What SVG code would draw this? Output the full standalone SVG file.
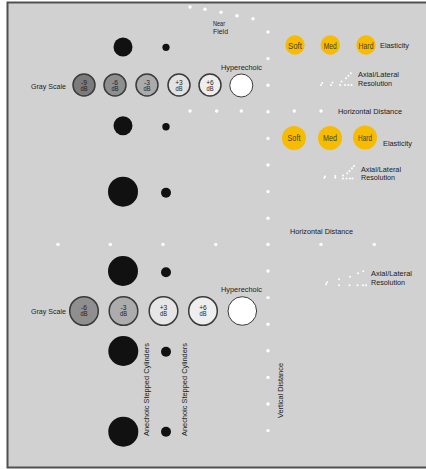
<svg xmlns="http://www.w3.org/2000/svg" width="426" height="469" viewBox="0 0 426 469">
<style>
text{font-family:"Liberation Sans",Arial,sans-serif;fill:#1c1c1c;font-size:8px}
.two{font-size:7.4px}
.in{font-size:6.6px;text-anchor:middle;fill:#1c1c1c}
.el{font-size:8.2px;text-anchor:middle;fill:#4a4230}
.wd{fill:#ffffff}
.sd{fill:#ffffff}
.blk{fill:#111111}
.gs{stroke:#3a3a3a;stroke-width:1.5}
.yel{fill:#f7bb00}
</style>
<rect x="7.5" y="2.5" width="430" height="465" fill="#d0d1d0" stroke="#505050" stroke-width="2"/>

<g id="grid-dots">
<circle class="wd" cx="190" cy="7" r="1.7"/><circle class="wd" cx="205" cy="9.3" r="1.7"/><circle class="wd" cx="221" cy="12.3" r="1.7"/><circle class="wd" cx="237" cy="15.7" r="1.7"/><circle class="wd" cx="253" cy="18.7" r="1.7"/>
<circle class="wd" cx="268" cy="32" r="1.7"/><circle class="wd" cx="268" cy="58.6" r="1.7"/><circle class="wd" cx="268" cy="85.2" r="1.7"/><circle class="wd" cx="268" cy="111.8" r="1.7"/><circle class="wd" cx="268" cy="138.4" r="1.7"/><circle class="wd" cx="268" cy="165" r="1.7"/><circle class="wd" cx="268" cy="191.6" r="1.7"/><circle class="wd" cx="268" cy="218.2" r="1.7"/><circle class="wd" cx="268" cy="244.4" r="1.7"/><circle class="wd" cx="268" cy="271" r="1.7"/><circle class="wd" cx="268" cy="297.6" r="1.7"/><circle class="wd" cx="268" cy="324.2" r="1.7"/><circle class="wd" cx="268" cy="350.8" r="1.7"/><circle class="wd" cx="268" cy="377.4" r="1.7"/><circle class="wd" cx="268" cy="404" r="1.7"/><circle class="wd" cx="268" cy="430.6" r="1.7"/>
<circle class="wd" cx="190" cy="111" r="1.7"/><circle class="wd" cx="216.7" cy="111" r="1.7"/><circle class="wd" cx="241.3" cy="111" r="1.7"/><circle class="wd" cx="294.3" cy="111" r="1.7"/><circle class="wd" cx="321" cy="111" r="1.7"/>
<circle class="wd" cx="58" cy="244.4" r="1.7"/><circle class="wd" cx="110.3" cy="244.4" r="1.7"/><circle class="wd" cx="163" cy="244.4" r="1.7"/><circle class="wd" cx="215.7" cy="244.4" r="1.7"/><circle class="wd" cx="321" cy="244.4" r="1.7"/><circle class="wd" cx="374.3" cy="244.4" r="1.7"/>
</g>

<g id="labels">
<text class="two" x="213" y="25.6" textLength="12" lengthAdjust="spacingAndGlyphs">Near</text>
<text class="two" x="213" y="33.8" textLength="15" lengthAdjust="spacingAndGlyphs">Field</text>
<text x="338" y="114" textLength="64" lengthAdjust="spacingAndGlyphs">Horizontal Distance</text>
<text x="290" y="234.3" textLength="63" lengthAdjust="spacingAndGlyphs">Horizontal Distance</text>
<text transform="translate(283,418) rotate(-90)" textLength="55" lengthAdjust="spacingAndGlyphs">Vertical Distance</text>
</g>

<g id="elasticity-1">
<circle class="yel" cx="295" cy="45" r="9.7"/><circle class="yel" cx="330.3" cy="45" r="9.7"/><circle class="yel" cx="366" cy="45" r="9.7"/>
<text class="el" x="295" y="48.6" textLength="14" lengthAdjust="spacingAndGlyphs">Soft</text>
<text class="el" x="330.3" y="48.6" textLength="13" lengthAdjust="spacingAndGlyphs">Med</text>
<text class="el" x="366" y="48.6" textLength="15" lengthAdjust="spacingAndGlyphs">Hard</text>
<text x="380" y="48" textLength="29" lengthAdjust="spacingAndGlyphs">Elasticity</text>
</g>

<g id="elasticity-2">
<circle class="yel" cx="294" cy="138" r="12"/><circle class="yel" cx="330" cy="138" r="12"/><circle class="yel" cx="365" cy="137.5" r="12"/>
<text class="el" x="294" y="141.4" textLength="13" lengthAdjust="spacingAndGlyphs">Soft</text>
<text class="el" x="330" y="141.4" textLength="14" lengthAdjust="spacingAndGlyphs">Med</text>
<text class="el" x="365" y="140.7" textLength="14" lengthAdjust="spacingAndGlyphs">Hard</text>
<text x="383" y="146.3" textLength="29" lengthAdjust="spacingAndGlyphs">Elasticity</text>
</g>

<g id="resolution-1">
<circle class="sd" cx="321" cy="85" r="1"/><circle class="sd" cx="322.3" cy="83" r="1"/>
<circle class="sd" cx="331" cy="85" r="1"/><circle class="sd" cx="332.5" cy="82.5" r="1"/>
<circle class="sd" cx="340" cy="85" r="1"/><circle class="sd" cx="341.5" cy="81.5" r="1"/>
<circle class="sd" cx="345" cy="85" r="1"/><circle class="sd" cx="346" cy="78.3" r="1"/>
<circle class="sd" cx="348.3" cy="85" r="1"/><circle class="sd" cx="348.3" cy="75.7" r="1"/>
<circle class="sd" cx="351.5" cy="85" r="1"/><circle class="sd" cx="350.8" cy="73.2" r="1"/>
<text class="two" x="358" y="76.8" textLength="41" lengthAdjust="spacingAndGlyphs">Axial/Lateral</text>
<text class="two" x="358" y="85.5" textLength="34" lengthAdjust="spacingAndGlyphs">Resolution</text>
</g>

<g id="resolution-2">
<circle class="sd" cx="324.3" cy="177.7" r="1"/><circle class="sd" cx="325" cy="176.6" r="1"/>
<circle class="sd" cx="335.3" cy="177.7" r="1"/><circle class="sd" cx="335.3" cy="176" r="1"/>
<circle class="sd" cx="343" cy="178.5" r="1"/><circle class="sd" cx="343" cy="175.5" r="1"/>
<circle class="sd" cx="346.5" cy="178.5" r="1"/><circle class="sd" cx="350" cy="178.5" r="1"/><circle class="sd" cx="352.5" cy="178.5" r="1"/>
<circle class="sd" cx="347.3" cy="173.3" r="1"/><circle class="sd" cx="349.5" cy="171" r="1"/><circle class="sd" cx="352" cy="168.3" r="1"/><circle class="sd" cx="354" cy="166" r="1"/>
<text class="two" x="361" y="172" textLength="40" lengthAdjust="spacingAndGlyphs">Axial/Lateral</text>
<text class="two" x="361" y="180.4" textLength="34" lengthAdjust="spacingAndGlyphs">Resolution</text>
</g>

<g id="resolution-3">
<circle class="sd" cx="326" cy="284.3" r="1"/><circle class="sd" cx="327.2" cy="282.3" r="1"/>
<circle class="sd" cx="339" cy="285.3" r="1"/><circle class="sd" cx="339" cy="279.3" r="1"/>
<circle class="sd" cx="349.5" cy="285.3" r="1"/><circle class="sd" cx="350" cy="276.7" r="1"/>
<circle class="sd" cx="357.5" cy="285.3" r="1"/><circle class="sd" cx="358" cy="273.3" r="1"/>
<circle class="sd" cx="363" cy="285.3" r="1"/><circle class="sd" cx="363.3" cy="271.3" r="1"/>
<circle class="sd" cx="366" cy="285.3" r="1"/>
<text class="two" x="371" y="276.4" textLength="41" lengthAdjust="spacingAndGlyphs">Axial/Lateral</text>
<text class="two" x="371" y="284.8" textLength="34" lengthAdjust="spacingAndGlyphs">Resolution</text>
</g>

<g id="grayscale-1">
<text x="31" y="89" textLength="35" lengthAdjust="spacingAndGlyphs">Gray Scale</text>
<circle class="gs" cx="84" cy="85" r="11" fill="#7b7b7b"/>
<circle class="gs" cx="115" cy="85" r="11" fill="#8e8e8e"/>
<circle class="gs" cx="147" cy="85" r="11" fill="#ababab"/>
<circle class="gs" cx="179" cy="85" r="11" fill="#e3e3e3"/>
<circle class="gs" cx="210" cy="85" r="11" fill="#eeeeee"/>
<circle cx="241.3" cy="85.5" r="11.5" fill="#ffffff" stroke="#3a3a3a" stroke-width="1"/>
<text class="in" x="84" y="84.8">-9</text><text class="in" x="84" y="90.6" textLength="7" lengthAdjust="spacingAndGlyphs">dB</text>
<text class="in" x="115" y="84.8">-6</text><text class="in" x="115" y="90.6" textLength="7" lengthAdjust="spacingAndGlyphs">dB</text>
<text class="in" x="147" y="84.8">-3</text><text class="in" x="147" y="90.6" textLength="7" lengthAdjust="spacingAndGlyphs">dB</text>
<text class="in" x="179" y="84.8">+3</text><text class="in" x="179" y="90.6" textLength="7" lengthAdjust="spacingAndGlyphs">dB</text>
<text class="in" x="210" y="84.8">+6</text><text class="in" x="210" y="90.6" textLength="7" lengthAdjust="spacingAndGlyphs">dB</text>
<text x="221" y="70.3" textLength="41" lengthAdjust="spacingAndGlyphs">Hyperechoic</text>
</g>

<g id="grayscale-2">
<text x="31" y="314" textLength="35" lengthAdjust="spacingAndGlyphs">Gray Scale</text>
<circle class="gs" cx="84" cy="311" r="14.3" fill="#8f8f8f"/>
<circle class="gs" cx="123.5" cy="311" r="14.3" fill="#acacac"/>
<circle class="gs" cx="163.5" cy="311" r="14.3" fill="#e6e6e6"/>
<circle class="gs" cx="203" cy="311" r="14.3" fill="#eeeeee"/>
<circle cx="242.3" cy="311" r="14.3" fill="#ffffff" stroke="#3a3a3a" stroke-width="1"/>
<text class="in" x="84" y="310.3">-6</text><text class="in" x="84" y="316" textLength="7" lengthAdjust="spacingAndGlyphs">dB</text>
<text class="in" x="123.5" y="310.3">-3</text><text class="in" x="123.5" y="316" textLength="7" lengthAdjust="spacingAndGlyphs">dB</text>
<text class="in" x="163.5" y="310.3">+3</text><text class="in" x="163.5" y="316" textLength="7" lengthAdjust="spacingAndGlyphs">dB</text>
<text class="in" x="203" y="310.3">+6</text><text class="in" x="203" y="316" textLength="7" lengthAdjust="spacingAndGlyphs">dB</text>
<text x="221" y="292.3" textLength="41" lengthAdjust="spacingAndGlyphs">Hyperechoic</text>
</g>

<g id="anechoic">
<circle class="blk" cx="123" cy="47" r="9.5"/><circle class="blk" cx="166" cy="47.3" r="3.6"/>
<circle class="blk" cx="123" cy="125.7" r="9.5"/><circle class="blk" cx="166" cy="126.7" r="3.7"/>
<circle class="blk" cx="123" cy="191.7" r="15"/><circle class="blk" cx="166" cy="192.7" r="5"/>
<circle class="blk" cx="123" cy="271" r="15"/><circle class="blk" cx="166" cy="272.3" r="5"/>
<circle class="blk" cx="123.3" cy="351" r="15"/><circle class="blk" cx="166" cy="351.7" r="5"/>
<circle class="blk" cx="123.3" cy="431.7" r="15"/><circle class="blk" cx="166" cy="431.7" r="5"/>
<text transform="translate(149.3,436) rotate(-90)" textLength="93" lengthAdjust="spacingAndGlyphs">Anechoic Stepped Cylinders</text>
<text transform="translate(186.5,436) rotate(-90)" textLength="93" lengthAdjust="spacingAndGlyphs">Anechoic Stepped Cylinders</text>
</g>
</svg>
